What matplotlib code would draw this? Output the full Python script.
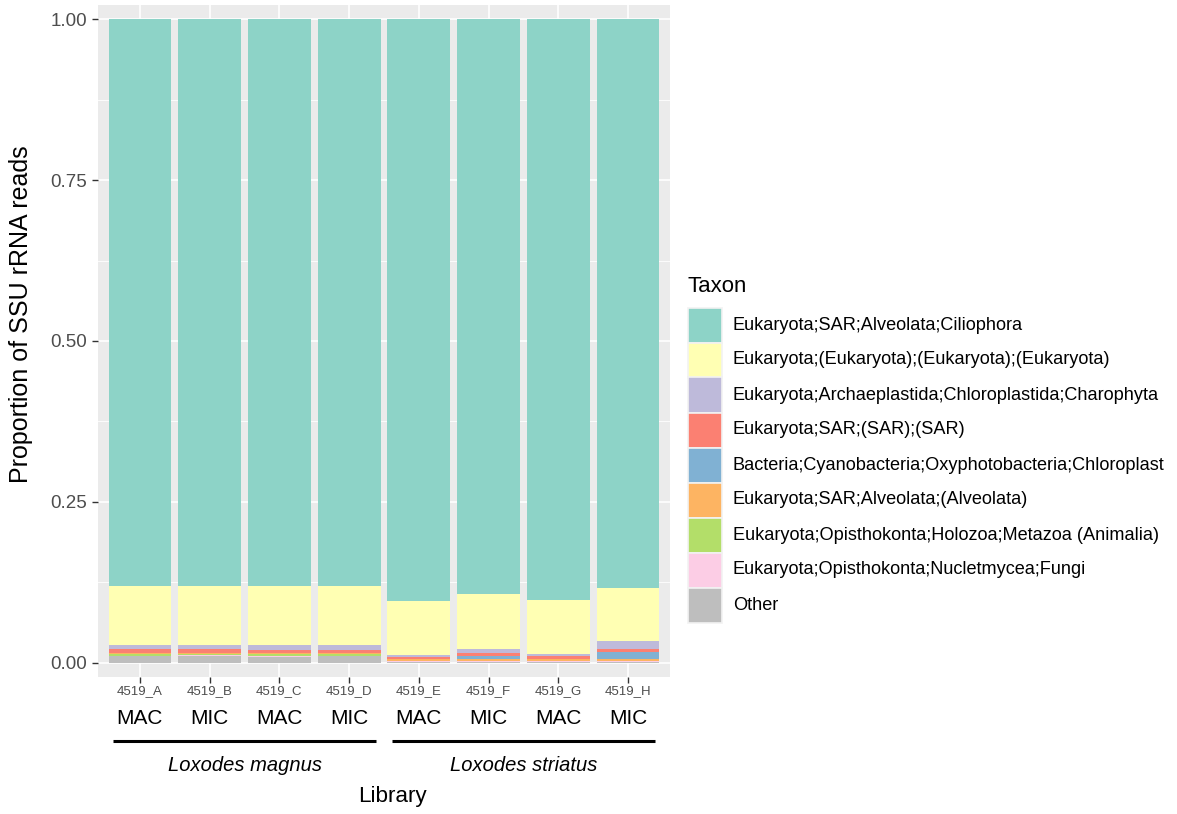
import matplotlib
matplotlib.use("Agg")
import matplotlib.pyplot as plt
import matplotlib.transforms as mtransforms
from matplotlib.patches import Rectangle
import numpy as np

plt.rcParams['font.family'] = ['Liberation Sans', 'DejaVu Sans']

libraries = ["4519_A", "4519_B", "4519_C", "4519_D", "4519_E", "4519_F", "4519_G", "4519_H"]
nucleus = ["MAC", "MIC", "MAC", "MIC", "MAC", "MIC", "MAC", "MIC"]
species = ["Loxodes magnus", "Loxodes striatus"]
species_members = [(0, 3), (4, 7)]

taxa = [
    "Eukaryota;SAR;Alveolata;Ciliophora",
    "Eukaryota;(Eukaryota);(Eukaryota);(Eukaryota)",
    "Eukaryota;Archaeplastida;Chloroplastida;Charophyta",
    "Eukaryota;SAR;(SAR);(SAR)",
    "Bacteria;Cyanobacteria;Oxyphotobacteria;Chloroplast",
    "Eukaryota;SAR;Alveolata;(Alveolata)",
    "Eukaryota;Opisthokonta;Holozoa;Metazoa (Animalia)",
    "Eukaryota;Opisthokonta;Nucletmycea;Fungi",
    "Other",
]
taxon_colors = ["#8DD3C7", "#FFFFB3", "#BEBADA", "#FB8072", "#80B1D3",
                "#FDB462", "#B3DE69", "#FCCDE5", "#BEBEBE"]

ciliophora  = [0.880, 0.880, 0.880, 0.881, 0.904, 0.893, 0.902, 0.883]
eukaryota   = [0.092, 0.093, 0.093, 0.092, 0.084, 0.085, 0.085, 0.083]
charophyta  = [0.007, 0.006, 0.0065, 0.0065, 0.0025, 0.007, 0.0025, 0.013]
sar         = [0.005, 0.005, 0.005, 0.005, 0.003, 0.005, 0.004, 0.004]
chloroplast = [0.0005, 0.0005, 0.0005, 0.0005, 0.0005, 0.004, 0.0005, 0.011]
alveolata   = [0.001, 0.002, 0.002, 0.002, 0.003, 0.003, 0.003, 0.003]
metazoa     = [0.004, 0.002, 0.003, 0.002, 0.0005, 0.0005, 0.0005, 0.0005]
fungi       = [0.0005, 0.0005, 0.0005, 0.0005, 0.0005, 0.0005, 0.0005, 0.0005]
other       = [0.010, 0.011, 0.0095, 0.0105, 0.002, 0.002, 0.002, 0.002]

series = [ciliophora, eukaryota, charophyta, sar, chloroplast,
          alveolata, metazoa, fungi, other]

fig = plt.figure(figsize=(11.77, 8.14), dpi=100)
ax = fig.add_axes([0.0833, 0.1683, 0.4859, 0.8256])
ax.set_facecolor("#EBEBEB")

x = np.arange(1, len(libraries) + 1)

# stack from the bottom: last taxon sits at the base, first at the top
bottom = np.zeros(len(libraries))
for vals, col in zip(reversed(series), reversed(taxon_colors)):
    v = np.array(vals)
    ax.bar(x, v, bottom=bottom, width=0.9, color=col, edgecolor="none", zorder=3)
    bottom += v

ax.set_xlim(0.4, len(libraries) + 0.6)
ax.set_ylim(-0.022, 1.022)
ax.set_yticks([0, 0.25, 0.5, 0.75, 1.0])
ax.set_yticklabels(["0.00", "0.25", "0.50", "0.75", "1.00"])
ax.set_yticks([0.125, 0.375, 0.625, 0.875], minor=True)
ax.set_xticks(x)
ax.set_xticklabels([])
ax.grid(which="major", color="white", linewidth=1.2, zorder=0)
ax.grid(which="minor", axis="y", color="white", linewidth=0.6, zorder=0)
for s in ax.spines.values():
    s.set_visible(False)
ax.tick_params(axis="both", which="major", length=4, width=1, color="#333333",
               labelsize=13.5, labelcolor="#4D4D4D", pad=4)
ax.tick_params(axis="y", which="minor", length=0)

ax.set_ylabel("Proportion of SSU rRNA reads", fontsize=18)
ax.yaxis.set_label_coords(-0.113, 0.54)

# two-line x labels, underlines per species and the axis title
trans = mtransforms.blended_transform_factory(ax.transData, fig.transFigure)
for xi, lib, nuc in zip(x, libraries, nucleus):
    ax.text(xi, 0.151, lib, transform=trans, ha="center", va="center",
            fontsize=9.5, color="#4D4D4D")
    ax.text(xi, 0.117, nuc, transform=trans, ha="center", va="center",
            fontsize=15, color="black")
for name, (i0, i1) in zip(species, species_members):
    x0, x1 = x[i0] - 0.39, x[i1] + 0.38
    ax.plot([x0, x1], [0.0897, 0.0897], transform=trans, color="black",
            linewidth=2.2, clip_on=False, solid_capstyle="butt")
    ax.text((x[i0] + x[i1]) / 2, 0.059, name, transform=trans, ha="center",
            va="center", fontsize=14.5, style="italic")
fig.text(0.333, 0.021, "Library", ha="center", va="center", fontsize=16.2)

# legend
fig.text(688 / 1177, 1 - 287 / 814, "Taxon", ha="left", va="center", fontsize=16)
key_w, key_h = 34 / 1177, 35 / 814
for i, (name, col) in enumerate(zip(taxa, taxon_colors)):
    yc = 1 - (325 + 35 * i) / 814
    fig.patches.append(Rectangle((688 / 1177, yc - key_h / 2), key_w, key_h,
                                 transform=fig.transFigure, facecolor=col,
                                 edgecolor="#F2F2F2", linewidth=1.2))
    fig.text(733 / 1177, yc, name, ha="left", va="center", fontsize=13.1)

fig.savefig("out.png", dpi=100)
